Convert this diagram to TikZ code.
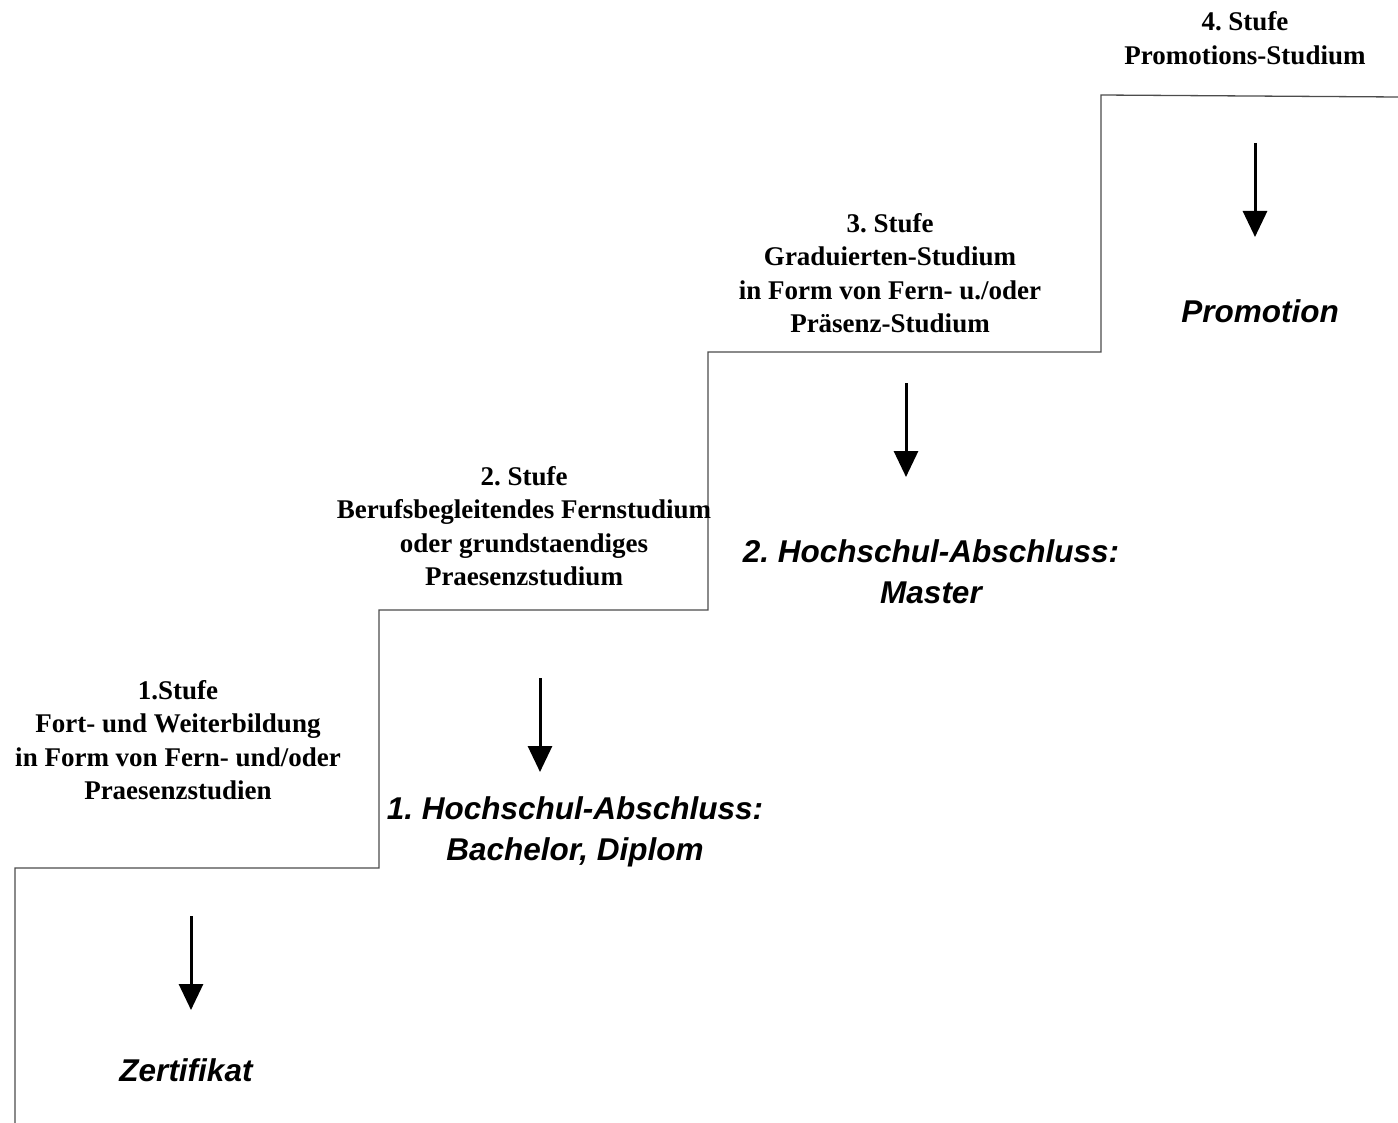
\documentclass[tikz,border=0pt]{standalone}
\usepackage{fontspec}
\setmainfont{Liberation Serif}
\newfontfamily\arialfont{Liberation Sans}
\usetikzlibrary{arrows.meta}
\frenchspacing
\begin{document}
\begin{tikzpicture}[x=1pt,y=-1pt,
  stair/.style={draw=black!70,line width=1.3pt},
  down/.style={draw=black,line width=3pt,-{Triangle[width=24pt,length=26pt]}},
  stufe/.style={inner sep=0pt,align=center,font=\frenchspacing\fontsize{27}{33.5}\selectfont\bfseries},
  result/.style={inner sep=0pt,align=center,font=\frenchspacing\arialfont\fontsize{31.5}{41}\selectfont\bfseries\itshape}]
\useasboundingbox (0,0) rectangle (1398,1123);
% staircase
\coordinate (p0) at (15,1123);
\coordinate (p1) at (15,868);
\coordinate (p2) at (379,868);
\coordinate (p3) at (379,610);
\coordinate (p4) at (708,610);
\coordinate (p5) at (708,352);
\coordinate (p6) at (1101,352);
\coordinate (p7) at (1101,95);
\coordinate (p8) at (1398,97);
\draw[stair] (p0) -- (p1) -- (p2) -- (p3) -- (p4) -- (p5) -- (p6) -- (p7) -- (p8);
% stage texts
\node[stufe] (s1) at (178,740) {1.Stufe\\Fort- und Weiterbildung\\in Form von Fern- und/oder\\Praesenzstudien};
\node[stufe] (s2) at (524,526) {2. Stufe\\Berufsbegleitendes Fernstudium\\oder grundstaendiges\\Praesenzstudium};
\node[stufe] (s3) at (890,273) {3. Stufe\\Graduierten-Studium\\in Form von Fern- u./oder\\Präsenz-Studium};
\node[stufe] (s4) at (1245,38) {4. Stufe\\Promotions-Studium};
% results
\node[result] (r1) at (186,1070) {Zertifikat};
\node[result] (r2) at (575,832) {1. Hochschul-Abschluss:\\Bachelor, Diplom};
\node[result] (r3) at (931,572) {2. Hochschul-Abschluss:\\Master};
\node[result] (r4) at (1260,311) {Promotion};
% arrows
\coordinate (a1s) at (191,916); \coordinate (a1e) at (191,1010);
\coordinate (a2s) at (540,678); \coordinate (a2e) at (540,772);
\coordinate (a3s) at (906,383); \coordinate (a3e) at (906,477);
\coordinate (a4s) at (1255,143); \coordinate (a4e) at (1255,237);
\draw[down] (a1s) -- (a1e);
\draw[down] (a2s) -- (a2e);
\draw[down] (a3s) -- (a3e);
\draw[down] (a4s) -- (a4e);
\end{tikzpicture}
\end{document}
